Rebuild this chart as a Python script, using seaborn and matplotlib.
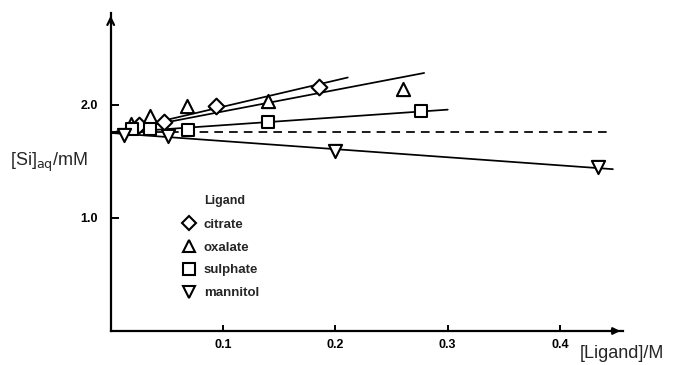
import matplotlib
matplotlib.use("Agg")
import matplotlib.pyplot as plt
from matplotlib.lines import Line2D
import seaborn as sns
import pandas as pd

# ---- data ----
ligands = ["citrate", "oxalate", "sulphate", "mannitol"]
citrate_x = [0.025, 0.047, 0.094, 0.185]
citrate_y = [1.817, 1.847, 1.99, 2.156]
oxalate_x = [0.018, 0.035, 0.068, 0.140, 0.260]
oxalate_y = [1.83, 1.897, 1.985, 2.035, 2.139]
sulphate_x = [0.019, 0.035, 0.069, 0.140, 0.276]
sulphate_y = [1.785, 1.785, 1.78, 1.847, 1.947]
mannitol_x = [0.012, 0.051, 0.200, 0.434]
mannitol_y = [1.735, 1.72, 1.593, 1.445]

# fitted lines: start value at x=0, end x, end value
fit_start_y = [1.75, 1.75, 1.75, 1.75]
fit_end_x = [0.211, 0.279, 0.300, 0.447]
fit_end_y = [2.24, 2.28, 1.956, 1.43]
# reference (no ligand) dashed level
ref_level = 1.755
ref_end_x = 0.443

x_ticks = [0.1, 0.2, 0.3, 0.4]
x_ticklabels = ["0.1", "0.2", "0.3", "0.4"]
y_ticks = [1.0, 2.0]
y_ticklabels = ["1.0", "2.0"]

markers = {"citrate": "D", "oxalate": "^", "sulphate": "s", "mannitol": "v"}
sizes = {"citrate": 8.0, "oxalate": 9.5, "sulphate": 8.5, "mannitol": 9.5}

rows = []
for name, xs, ys in [("citrate", citrate_x, citrate_y), ("oxalate", oxalate_x, oxalate_y),
                     ("sulphate", sulphate_x, sulphate_y), ("mannitol", mannitol_x, mannitol_y)]:
    for xv, yv in zip(xs, ys):
        rows.append({"Ligand": name, "x": xv, "y": yv})
df = pd.DataFrame(rows)

sns.set_style("white")
plt.rcParams["font.family"] = ["Liberation Sans", "DejaVu Sans"]

fig = plt.figure(figsize=(6.83, 3.65), dpi=100)
ax = fig.add_axes([110.7 / 683, 34 / 365, (623 - 110.7) / 683, (331 - 13) / 365])

# fitted lines
for i, name in enumerate(ligands):
    sns.lineplot(x=[0.0, fit_end_x[i]], y=[fit_start_y[i], fit_end_y[i]], color="black",
                 lw=1.25, ax=ax, zorder=2)
sns.lineplot(x=[0.0, ref_end_x], y=[ref_level, ref_level], color="black", lw=1.25,
             ax=ax, zorder=2, dashes=False, linestyle=(0, (5, 3.5)))

# points
for name in ligands:
    sub = df[df["Ligand"] == name]
    sns.scatterplot(data=sub, x="x", y="y", marker=markers[name], s=sizes[name] ** 2,
                    facecolor="white", edgecolor="black", linewidth=1.5, ax=ax, zorder=3,
                    legend=False)

ax.set_xlim(0, 0.456)
ax.set_ylim(0, 2.81)
ax.set_xticks(x_ticks)
ax.set_xticklabels(x_ticklabels)
ax.set_yticks(y_ticks)
ax.set_yticklabels(y_ticklabels)
ax.tick_params(axis="both", direction="in", length=5, width=1.4, colors="black",
               labelsize=9, bottom=True, left=True)
ax.tick_params(axis="x", pad=6, length=4)
ax.tick_params(axis="y", pad=9, length=6)
for lab in ax.get_xticklabels() + ax.get_yticklabels():
    lab.set_fontweight("bold")
ax.set_xlabel("")
ax.set_ylabel("")
for s in ["top", "right"]:
    ax.spines[s].set_visible(False)
for s in ["left", "bottom"]:
    ax.spines[s].set_linewidth(1.6)
    ax.spines[s].set_color("black")

# arrow heads
ax.annotate("", xy=(1.0, 0), xytext=(0.97, 0), xycoords="axes fraction",
            arrowprops=dict(arrowstyle="-|>", color="black", lw=1.6, mutation_scale=10))
ax.annotate("", xy=(0, 1.0), xytext=(0, 0.96), xycoords="axes fraction",
            arrowprops=dict(arrowstyle="->", color="black", lw=1.6, mutation_scale=12))

# axis labels
fig.text(10 / 683, 1 - 162 / 365, r"[Si]$_{\mathrm{aq}}$/mM", fontsize=13,
         ha="left", va="center")
fig.text(580 / 683, 12 / 365, "[Ligand]/M", fontsize=13, ha="left", va="center")

# legend
fig.text(204 / 683, 1 - 201 / 365, "Ligand", fontsize=9, fontweight="bold",
         ha="left", va="center")
handles = [Line2D([], [], marker=markers[n], ls="", mfc="white", mec="black", mew=1.5,
                  ms=sizes[n] * 0.95) for n in ligands]
leg = ax.legend(handles, ligands, loc="upper left", bbox_to_anchor=(176 / 683, 1 - 212 / 365),
                bbox_transform=fig.transFigure, frameon=False, handlelength=1.0,
                handletextpad=0.6, labelspacing=0.8, borderpad=0,
                prop={"size": 9.5, "weight": "bold"})

fig.savefig("out.png", dpi=100)
